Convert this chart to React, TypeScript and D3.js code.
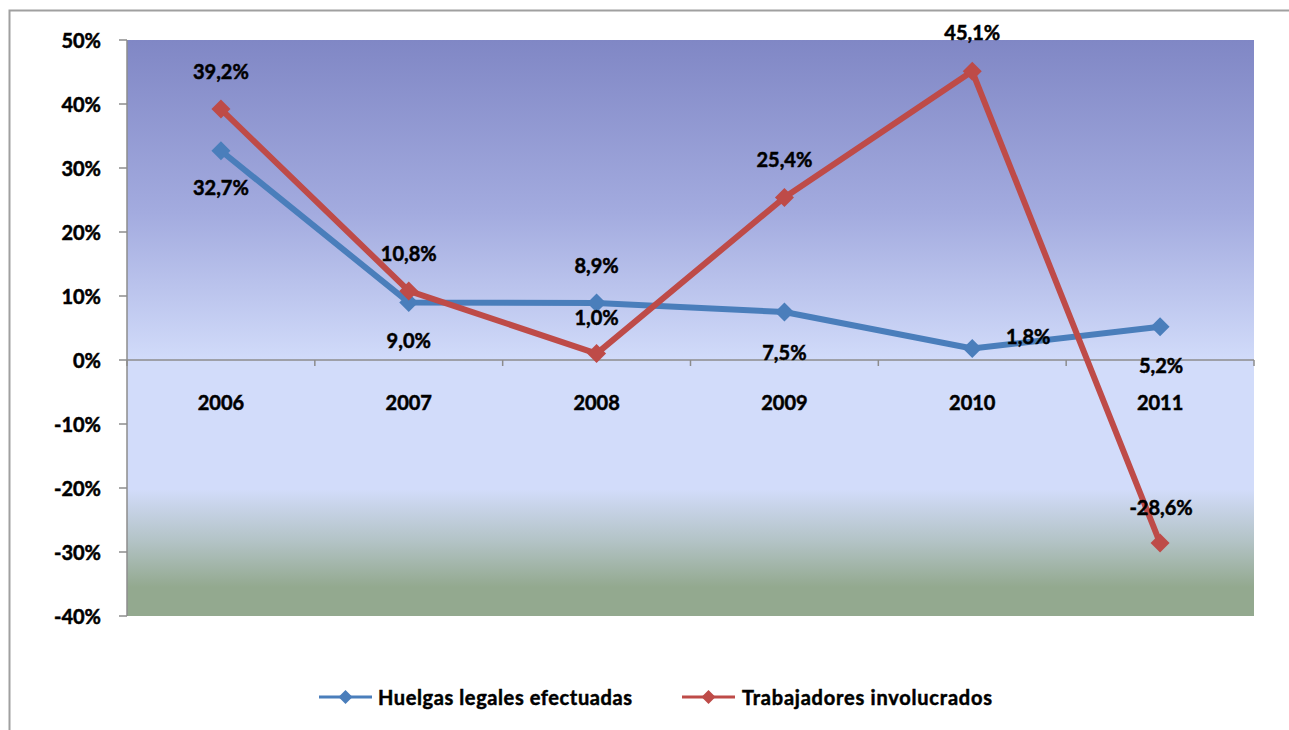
import React from "react";
import * as d3 from "d3";

const years = ["2006", "2007", "2008", "2009", "2010", "2011"];
const huelgas = [32.7, 9.0, 8.9, 7.5, 1.8, 5.2];
const trabajadores = [39.2, 10.8, 1.0, 25.4, 45.1, -28.6];
const yTicks = [50, 40, 30, 20, 10, 0, -10, -20, -30, -40];
// label offsets (dx, dy) relative to the point
const huelgasLabelOffsets = [[0, 36], [0, 38], [0, -38], [0, 40], [56, -12], [1, 38]];
const trabajadoresLabelOffsets = [[0, -38], [0, -38], [0, -37], [0, -38], [0, -39], [1, -36]];
const seriesNames = ["Huelgas legales efectuadas", "Trabajadores involucrados"];
const colors = ["#4A7EBB", "#BE4B48"];

const W = 1289, H = 730;
const L = 127, R = 1254, T = 40, B = 616;
const FONT = "Lato, 'Open Sans', sans-serif";

const fmt = (v: number) => v.toFixed(1).replace(".", ",") + "%";

export default function App() {
  const x = d3.scaleBand<string>().domain(years).range([L, R]).padding(0);
  const cx = (i: number) => (x(years[i]) as number) + x.bandwidth() / 2;
  const y = d3.scaleLinear().domain([-40, 50]).range([B, T]);
  const line = d3.line<number>().x((_, i) => cx(i)).y((d) => y(d));
  const diamond = (px: number, py: number, r = 9.5) =>
    `M${px},${py - r}L${px + r},${py}L${px},${py + r}L${px - r},${py}Z`;
  const series = [
    { vals: huelgas, offs: huelgasLabelOffsets, color: colors[0] },
    { vals: trabajadores, offs: trabajadoresLabelOffsets, color: colors[1] },
  ];
  const boundaries = d3.range(years.length + 1).map((i) => L + i * x.bandwidth());
  const txt = { fontFamily: FONT, fontWeight: "bold" as const, fill: "#000", stroke: "#000", strokeWidth: 0.5 };

  return (
    <svg width={W} height={H} style={{ position: "absolute", left: 0, top: 0, display: "block" }}>
      <defs>
        <linearGradient id="bg" x1="0" y1="0" x2="0" y2="1">
          <stop offset="0" stopColor="#8087C5" />
          <stop offset="0.3" stopColor="#A3ABDF" />
          <stop offset="0.56" stopColor="#D2DCFA" />
          <stop offset="0.78" stopColor="#D2DCFA" />
          <stop offset="0.87" stopColor="#B3C3C6" />
          <stop offset="0.95" stopColor="#93A98F" />
          <stop offset="1" stopColor="#93A98F" />
        </linearGradient>
      </defs>
      <rect x={0} y={0} width={W} height={H} fill="#fff" />
      <path d={`M9.5,${H}L9.5,10.5L${W},10.5`} fill="none" stroke="#A0A0A0" strokeWidth={2} />
      <rect x={L} y={T} width={R - L} height={B - T} fill="url(#bg)" />
      {/* y axis */}
      <line x1={L} x2={L} y1={T} y2={B} stroke="#8C8C8C" strokeWidth={1.5} />
      {yTicks.map((t) => (
        <g key={t}>
          <line x1={L - 8} x2={L} y1={y(t)} y2={y(t)} stroke="#8C8C8C" strokeWidth={1.5} />
          <text x={L - 26} y={y(t)} textAnchor="end" dominantBaseline="central" fontSize={20} {...txt}>{t}%</text>
        </g>
      ))}
      {/* x axis at zero */}
      <line x1={L} x2={R} y1={y(0)} y2={y(0)} stroke="#8C8C8C" strokeWidth={1.5} />
      {boundaries.map((b, i) => (
        <line key={i} x1={b} x2={b} y1={y(0)} y2={y(0) + 6} stroke="#8C8C8C" strokeWidth={1.5} />
      ))}
      {years.map((yr, i) => (
        <text key={yr} x={cx(i)} y={402} textAnchor="middle" dominantBaseline="central" fontSize={20} {...txt}>{yr}</text>
      ))}
      {/* series */}
      {series.map((s, si) => (
        <g key={si}>
          <path d={line(s.vals) as string} fill="none" stroke={s.color} strokeWidth={6} strokeLinejoin="round" />
          {s.vals.map((v, i) => (
            <path key={i} d={diamond(cx(i), y(v))} fill={s.color} />
          ))}
        </g>
      ))}
      {series.map((s, si) => (
        <g key={"l" + si}>
          {s.vals.map((v, i) => (
            <text key={i} x={cx(i) + s.offs[i][0]} y={y(v) + s.offs[i][1]} textAnchor="middle"
              dominantBaseline="central" fontSize={20} {...txt}>
              {fmt(v)}
            </text>
          ))}
        </g>
      ))}
      {/* legend */}
      {[{ x0: 319, tx: 378, tl: 254 }, { x0: 682, tx: 742, tl: 250 }].map((lg, i) => (
        <g key={"lg" + i}>
          <line x1={lg.x0} x2={lg.x0 + 53} y1={697} y2={697} stroke={colors[i]} strokeWidth={3} />
          <path d={diamond(lg.x0 + 26.5, 697, 7)} fill={colors[i]} />
          <text x={lg.tx} y={697} dominantBaseline="central" fontSize={20} textLength={lg.tl}
            lengthAdjust="spacing" {...txt}>{seriesNames[i]}</text>
        </g>
      ))}
    </svg>
  );
}
